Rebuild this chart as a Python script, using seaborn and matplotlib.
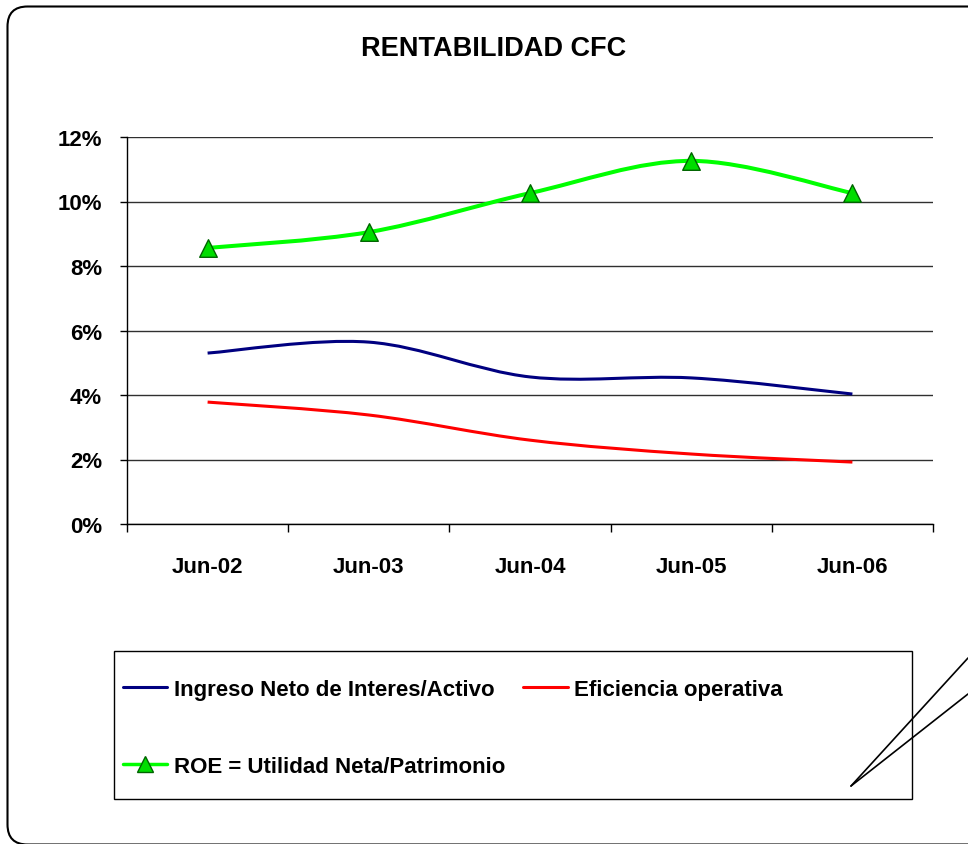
import matplotlib.pyplot as plt
import numpy as np
import seaborn as sns
from matplotlib.path import Path
from matplotlib.patches import PathPatch, Rectangle, FancyBboxPatch
from matplotlib.lines import Line2D
from matplotlib.ticker import FixedLocator, FuncFormatter, NullFormatter
from matplotlib.transforms import IdentityTransform

# Data (values in %)
periods = ['Jun-02', 'Jun-03', 'Jun-04', 'Jun-05', 'Jun-06']
ingreso = [5.30, 5.64, 4.56, 4.53, 4.03]
eficiencia = [3.78, 3.38, 2.60, 2.17, 1.92]
roe = [8.56, 9.05, 10.26, 11.26, 10.26]
series_names = ['Ingreso Neto de Interes/Activo', 'Eficiencia operativa',
                'ROE = Utilidad Neta/Patrimonio']

sns.set_style('white')
plt.rcParams['font.family'] = ['Liberation Sans', 'DejaVu Sans']
plt.rcParams['font.weight'] = 'bold'
plt.rcParams['text.color'] = 'black'
plt.rcParams['xtick.color'] = 'black'
plt.rcParams['ytick.color'] = 'black'
plt.rcParams['xtick.labelcolor'] = 'black'
plt.rcParams['ytick.labelcolor'] = 'black'

W, H = 968, 845
fig = plt.figure(figsize=(W / 100, H / 100), dpi=100)
ax = fig.add_axes([127 / W, 1 - 525 / H, (933 - 127) / W, (525 - 138) / H])


def smooth_path(xs, ys):
    # Excel-like smoothed line: cubic Bezier segments with Catmull-Rom control points
    pts = [np.array(p, dtype=float) for p in zip(xs, ys)]
    n = len(pts)
    verts = [tuple(pts[0])]
    codes = [Path.MOVETO]
    for i in range(n - 1):
        p0 = pts[max(i - 1, 0)]
        p1 = pts[i]
        p2 = pts[i + 1]
        p3 = pts[min(i + 2, n - 1)]
        c1 = p1 + (p2 - p0) / 6
        c2 = p2 - (p3 - p1) / 6
        verts += [tuple(c1), tuple(c2), tuple(p2)]
        codes += [Path.CURVE4] * 3
    return Path(verts, codes)


xpos = np.arange(len(periods))

ax.add_patch(PathPatch(smooth_path(xpos, ingreso), fill=False, edgecolor='#000080',
                       lw=2.2, zorder=3, joinstyle='round'))
ax.add_patch(PathPatch(smooth_path(xpos, eficiencia), fill=False, edgecolor='#FF0000',
                       lw=2.2, zorder=3, joinstyle='round'))
ax.add_patch(PathPatch(smooth_path(xpos, roe), fill=False, edgecolor='#00FF00',
                       lw=2.9, zorder=3, joinstyle='round'))
sns.scatterplot(x=xpos, y=roe, marker='^', s=160, color='#00DD00',
                edgecolor='#006400', linewidth=1, ax=ax, zorder=5, legend=False)

ax.set_xlim(-0.5, len(periods) - 0.5)
ax.set_ylim(0, 12)

# x axis: ticks between categories, labels centred
ax.xaxis.set_major_locator(FixedLocator(np.arange(-0.5, len(periods), 1)))
ax.xaxis.set_major_formatter(NullFormatter())
ax.xaxis.set_minor_locator(FixedLocator(xpos))
ax.set_xticklabels(periods, minor=True)
ax.tick_params(axis='x', which='major', direction='out', length=6, width=1, color='black', bottom=True)
ax.tick_params(axis='x', which='minor', length=0, pad=23, labelsize=16)

ax.set_yticks(np.arange(0, 13, 2))
ax.yaxis.set_major_formatter(FuncFormatter(lambda v, p: f'{v:.0f}%'))
ax.tick_params(axis='y', direction='out', length=5, width=1, color='black', left=True,
               pad=13, labelsize=16)

ax.yaxis.grid(True, color='#303030', lw=1)
ax.set_axisbelow(True)
for s in ['top', 'right']:
    ax.spines[s].set_visible(False)
for s in ['left', 'bottom']:
    ax.spines[s].set_color('black')
    ax.spines[s].set_linewidth(1)
ax.set_xlabel('')
ax.set_ylabel('')

fig.text(494 / W, 1 - 49 / H, 'RENTABILIDAD CFC', ha='center', va='center',
         fontsize=19.5, fontweight='bold', color='black')

# Legend
handles = [Line2D([], [], color='#000080', lw=2.2),
           Line2D([], [], color='#00FF00', lw=2.5, marker='^', ms=12,
                  mfc='#00DD00', mec='#006400'),
           Line2D([], [], color='#FF0000', lw=2.2)]
labels = [series_names[0], series_names[2], series_names[1]]
fig.legend(handles, labels, ncol=2, loc='upper left',
           bbox_to_anchor=(123 / W, 1 - 680 / H), frameon=False,
           prop={'size': 16, 'weight': 'bold'}, handlelength=2.0,
           handletextpad=0.3, columnspacing=0.8, labelspacing=2.5,
           borderpad=0, borderaxespad=0, labelcolor='black')
fig.add_artist(Rectangle((114 / W, 1 - 800 / H), 798 / W, 148 / H,
                         transform=fig.transFigure, fill=False, ec='black', lw=1))

# callout lines at lower right
fig.add_artist(Line2D([851 / W, 1.0], [1 - 787 / H, 1 - 659 / H],
                      transform=fig.transFigure, color='black', lw=1.2))
fig.add_artist(Line2D([851 / W, 1.0], [1 - 787 / H, 1 - 695 / H],
                      transform=fig.transFigure, color='black', lw=1.2))

# rounded chart border
fig.add_artist(FancyBboxPatch((7.5, -0.5), 990 - 7.5, 838,
                              boxstyle='round,pad=0,rounding_size=20',
                              transform=IdentityTransform(), fill=False,
                              ec='black', lw=1.5))

fig.savefig('out.png', dpi=100)
